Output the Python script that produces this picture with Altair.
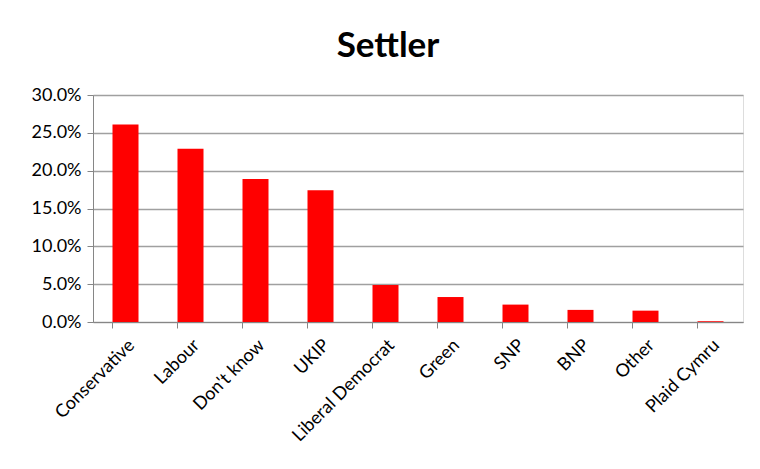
import altair as alt
import pandas as pd

parties = ["Conservative", "Labour", "Don't know", "UKIP", "Liberal Democrat",
           "Green", "SNP", "BNP", "Other", "Plaid Cymru"]
shares = [0.261, 0.229, 0.189, 0.174, 0.049, 0.033, 0.023, 0.016, 0.015, 0.001]

df = pd.DataFrame({"party": parties, "share": shares})

FONT = "Lato"

chart = alt.Chart(df).mark_bar(color="#ff0000").encode(
    x=alt.X("party:N", sort=parties, title=None,
            scale=alt.Scale(paddingInner=0.6, paddingOuter=0.3),
            axis=alt.Axis(labelAngle=-45, labelFontSize=18, labelFont=FONT,
                          labelColor="#000000", bandPosition=0, tickSize=6,
                          tickColor="#868686", domainColor="#868686",
                          labelPadding=8, grid=False)),
    y=alt.Y("share:Q", title=None,
            scale=alt.Scale(domain=[0, 0.30]),
            axis=alt.Axis(format=".1%", values=[0, 0.05, 0.10, 0.15, 0.20, 0.25, 0.30],
                          labelFontSize=18, labelFont=FONT, labelColor="#000000",
                          tickSize=6, tickColor="#868686", domainColor="#868686",
                          gridColor="#a0a0a0", gridWidth=1.3, labelPadding=6)),
).properties(
    width=650,
    height=227,
    title=alt.TitleParams("Settler", fontSize=35, font=FONT, fontWeight="bold",
                          color="#000000", anchor="middle", dx=-30, offset=22),
    autosize=alt.AutoSizeParams(type="none"),
    padding={"left": 85, "top": 87, "right": 9, "bottom": 139},
).configure_view(stroke=None).configure(background="#ffffff")

chart.save("out.html", embed_options={"renderer": "svg", "actions": False})
